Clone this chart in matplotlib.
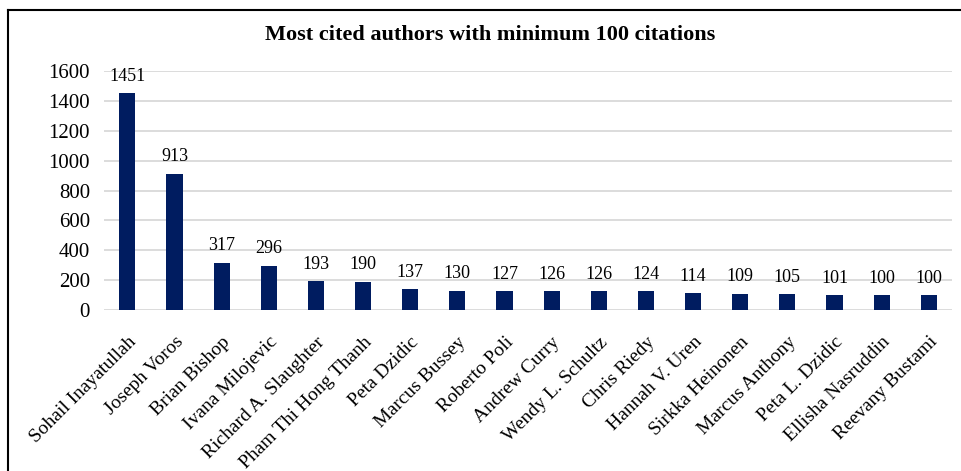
import matplotlib.pyplot as plt
from matplotlib.lines import Line2D

authors = ["Sohail Inayatullah", "Joseph Voros", "Brian Bishop", "Ivana Milojevic",
           "Richard A. Slaughter", "Pham Thi Hong Thanh", "Peta Dzidic",
           "Marcus Bussey", "Roberto Poli", "Andrew Curry", "Wendy L. Schultz",
           "Chris Riedy", "Hannah V. Uren", "Sirkka Heinonen", "Marcus Anthony",
           "Peta L. Dzidic", "Ellisha Nasruddin", "Reevany Bustami"]
citations = [1451, 913, 317, 296, 193, 190, 137, 130, 127, 126, 126,
             124, 114, 109, 105, 101, 100, 100]
yticks = [0, 200, 400, 600, 800, 1000, 1200, 1400, 1600]

plt.rcParams['font.family'] = ['Liberation Serif', 'DejaVu Serif']

fig = plt.figure(figsize=(9.61, 4.71), dpi=100)
ax = fig.add_axes([0.108, 0.342, 0.883, 0.507])

x = range(len(authors))
bars = ax.bar(x, citations, width=0.34, color='#001c60', zorder=3)
for xi, v in zip(x, citations):
    ax.annotate(str(v), (xi, v), xytext=(0, 6), textcoords='offset points',
                ha='center', va='bottom', fontsize=13)

ax.set_xlim(-0.5, len(authors) - 0.5)
ax.set_ylim(0, 1600)
ax.set_yticks(yticks)
ax.set_yticklabels([str(t) for t in yticks], fontsize=15)
ax.set_xticks(list(x))
ax.set_xticklabels(authors, rotation=45, ha='right', rotation_mode='anchor',
                   fontsize=14)
ax.tick_params(axis='both', length=0)
ax.tick_params(axis='y', pad=10)
ax.tick_params(axis='x', pad=17)
ax.grid(axis='y', color='#d9d9d9', linewidth=1.3, zorder=0)
for s in ax.spines.values():
    s.set_visible(False)

fig.text(0.51, 0.926, "Most cited authors with minimum 100 citations",
         ha='center', va='center', fontsize=16, fontweight='bold')

# frame lines along top and left edges
fig.add_artist(Line2D([0.0085, 1.0], [0.979, 0.979], color='black', linewidth=1.5))
fig.add_artist(Line2D([0.0085, 0.0085], [0.0, 0.979], color='black', linewidth=1.5))

fig.savefig("out.png", dpi=100)
